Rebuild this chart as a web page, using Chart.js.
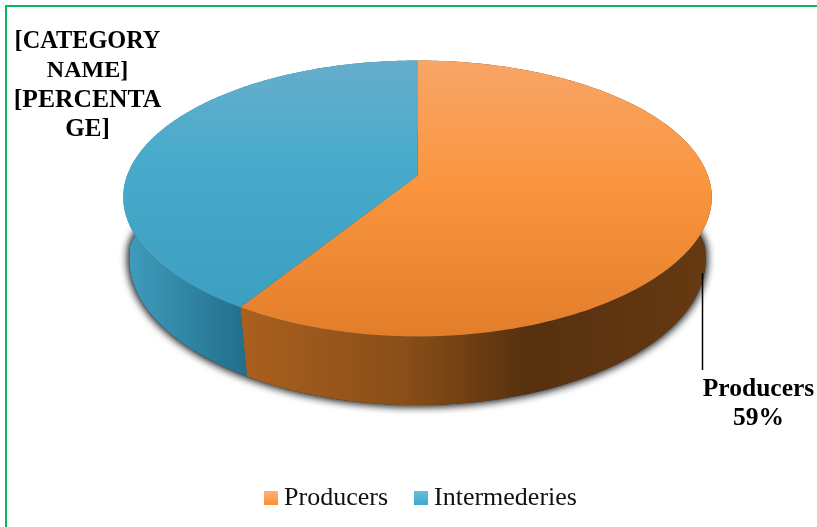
<!DOCTYPE html>
<html>
<head>
<meta charset="utf-8">
<style>
  html, body { margin: 0; padding: 0; background: #fff; overflow: hidden; }
  #wrap { position: relative; width: 817px; height: 527px; }
  #frame { position: absolute; left: 5px; top: 5px; right: 0; bottom: 0;
           border-left: 2px solid #05b65c; border-top: 2px solid #05b65c; }
  canvas { position: absolute; left: 0; top: 0; }
</style>
<script src="https://cdn.jsdelivr.net/npm/chart.js@4"></script>
</head>
<body>
<div id="wrap">
  <div id="frame"></div>
  <canvas id="chart01" width="817" height="527"></canvas>
</div>
<script>
const categories = ['Producers', 'Intermederies'];
const shares = [59, 41];
const label_lines = [
    ['Producers', '59%'],
    ['[CATEGORY', 'NAME]', '[PERCENTA', 'GE]']
];
const left_label_sizes = [24.3, 24, 25.6, 25];

const serif = '"Liberation Serif", "Times New Roman", serif';

// the 3d look: circle gets projected on a tilted plate
const tilt = -1 / 6;
const squash_y = 0.462;
const apex_lift = 51;
const apex_shift = 6;   // legend needs more left padding than the pie
const depth = 71;
const bottom_scale = 0.99;

const face_colors = [
    [[0, '#f8a566'], [0.45, '#fa953e'], [1, '#e27e2a']],
    [[0, '#66aecb'], [0.35, '#49abcb'], [1, '#399dbf']]
];
const side_colors = [
    [[0, '#aa601f'], [0.35, '#8a4e18'], [0.62, '#56300f'], [1, '#663a12']],
    [[0, '#3f9cbd'], [1, '#23718d']]
];
const swatch_colors = [['#ffb27a', '#fb9033'], ['#66c0dc', '#3fa8cb']];

function swatch(stops) {
    const c = document.createElement('canvas');
    c.width = 14;
    c.height = 14;
    const g = c.getContext('2d');
    const grad = g.createLinearGradient(0, 0, 0, 14);
    grad.addColorStop(0, stops[0]);
    grad.addColorStop(1, stops[1]);
    g.fillStyle = grad;
    g.fillRect(0, 0, 14, 14);
    return c;
}

function rim_point(arc, angle, scale, drop) {
    const r = arc.outerRadius * scale;
    const u = Math.cos(angle), v = Math.sin(angle);
    const w = 1 + tilt * v;
    // front of the plate narrows a bit, the lower rim more than the upper one
    let taper = 1;
    if (v > 0) taper = drop ? 1 - 0.055 * Math.pow(v, 0.75) : 1 - 0.03 * v * v;
    return {
        x: arc.x - apex_shift + taper * r * u / w,
        y: arc.y - apex_lift + drop + arc.outerRadius * 0.985 * squash_y * v / w + (scale == 1 ? arc.outerRadius * 0.015 * squash_y * v / w : 0)
    };
}

function rim_points(arc, scale, drop) {
    const pts = [];
    const steps = 200;
    for (let i = 0; i <= steps; i++) {
        const a = arc.startAngle + (arc.endAngle - arc.startAngle) * i / steps;
        pts.push(rim_point(arc, a, scale, drop));
    }
    return pts;
}

function trace(ctx, pts) {
    pts.forEach((p, i) => i ? ctx.lineTo(p.x, p.y) : ctx.moveTo(p.x, p.y));
}

function gradient(ctx, x0, y0, x1, y1, stops) {
    const grad = ctx.createLinearGradient(x0, y0, x1, y1);
    stops.forEach(s => grad.addColorStop(s[0], s[1]));
    return grad;
}

const pie3d = {
    id: 'pie3d',
    beforeDatasetsDraw(chart) {
        const ctx = chart.ctx;
        const arcs = chart.getDatasetMeta(0).data;
        const first = arcs[0];
        const full = {x: first.x, y: first.y, outerRadius: first.outerRadius,
                      startAngle: 0, endAngle: Math.PI * 2};
        const top_y = rim_point(full, -Math.PI / 2, 1, 0).y;
        const bottom_y = rim_point(full, Math.PI / 2, 1, 0).y;
        const left_x = rim_point(full, Math.PI, 1, 0).x;
        const right_x = rim_point(full, 0, 1, 0).x;

        // drop shadow under the plate
        ctx.save();
        ctx.shadowColor = 'rgba(0,0,0,0.8)';
        ctx.shadowBlur = 10;
        ctx.fillStyle = '#444';
        ctx.beginPath();
        trace(ctx, rim_points(full, bottom_scale, depth));
        ctx.closePath();
        ctx.fill();
        ctx.fill();
        ctx.restore();

        // side walls
        arcs.forEach((arc, i) => {
            const top = rim_points(arc, 1, 0);
            const low = rim_points(arc, bottom_scale, depth).reverse();
            const x0 = i == 0 ? rim_point(arc, arc.endAngle, 1, 0).x : left_x;
            const x1 = i == 0 ? right_x : rim_point(arc, arc.startAngle, 1, 0).x;
            ctx.fillStyle = gradient(ctx, x0, 0, x1, 0, side_colors[i]);
            ctx.beginPath();
            trace(ctx, top.concat(low));
            ctx.closePath();
            ctx.fill();
        });

        // top faces
        arcs.forEach((arc, i) => {
            const apex = rim_point({x: arc.x, y: arc.y, outerRadius: 0}, 0, 1, 0);
            ctx.fillStyle = gradient(ctx, 0, top_y, 0, bottom_y, face_colors[i]);
            ctx.beginPath();
            trace(ctx, [apex].concat(rim_points(arc, 1, 0)));
            ctx.closePath();
            ctx.fill();
        });

        // leader line for Producers
        ctx.strokeStyle = '#000';
        ctx.lineWidth = 1.5;
        ctx.beginPath();
        ctx.moveTo(702.5, 273);
        ctx.lineTo(702.5, 370);
        ctx.stroke();

        // labels
        ctx.fillStyle = '#000';
        ctx.textAlign = 'center';
        ctx.textBaseline = 'alphabetic';
        ctx.font = 'bold 25.5px ' + serif;
        label_lines[0].forEach((t, n) => ctx.fillText(t, 758.5, 395.5 + n * 29.5));
        label_lines[1].forEach((t, n) => {
            ctx.font = 'bold ' + left_label_sizes[n] + 'px ' + serif;
            ctx.fillText(t, 87.5, 47.5 + n * 29.5);
        });

        return false;
    }
};

new Chart(document.getElementById('chart01'), {
    type: 'pie',
    data: {
        labels: categories,
        datasets: [{
            data: shares,
            backgroundColor: ['#f9913a', '#49abcb'],
            borderWidth: 0,
            radius: 290.4
        }]
    },
    options: {
        responsive: false,
        animation: false,
        layout: {padding: {left: 30, bottom: 6}},
        plugins: {
            tooltip: {enabled: false},
            legend: {
                position: 'bottom',
                labels: {
                    usePointStyle: true,
                    boxWidth: 1,
                    padding: 32,
                    color: '#111',
                    font: {family: serif, size: 26},
                    generateLabels: chart => categories.map((name, i) => ({
                        text: name,
                        pointStyle: swatch(swatch_colors[i]),
                        fontColor: '#111',
                        lineWidth: 0,
                        hidden: false,
                        index: i
                    }))
                }
            }
        }
    },
    plugins: [pie3d]
});
</script>
</body>
</html>
